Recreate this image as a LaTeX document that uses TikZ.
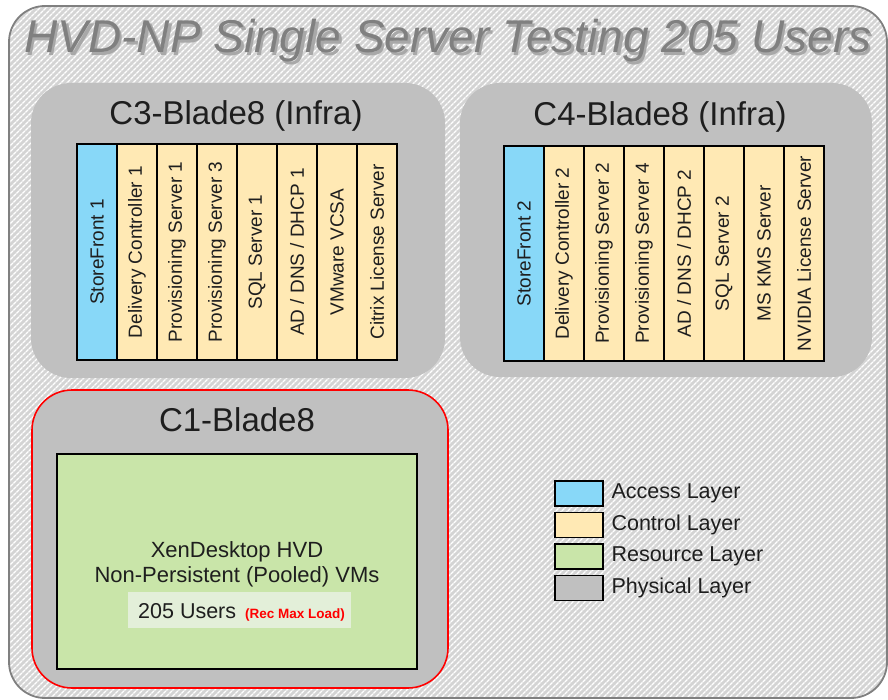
\documentclass[tikz,border=0pt]{standalone}
\usepackage{fontspec}
\setmainfont{Liberation Sans}
\usetikzlibrary{patterns.meta}
\definecolor{access}{HTML}{88D8F8}
\definecolor{control}{HTML}{FFE9B4}
\definecolor{resource}{HTML}{C9E5A9}
\definecolor{phys}{HTML}{C0C0C0}
\definecolor{bgfill}{HTML}{D4D4D4}
\definecolor{usersfill}{HTML}{E3EFD9}
\definecolor{titlegray}{HTML}{808080}
\definecolor{shadowgray}{HTML}{A8A8A8}
\definecolor{ink}{HTML}{1E1E1E}
\newcommand{\titletxt}{HVD-NP Single Server Testing 205 Users}
\begin{document}
\begin{tikzpicture}[x=1pt,y=-1pt,
  blade/.style={fill=phys, rounded corners=40pt, inner sep=0pt},
  bladetitle/.style={anchor=base, text=ink, font=\fontsize{33}{38}\selectfont},
  colbox/.style={draw=black, line width=1.3pt, rotate=90, inner sep=0pt, text=ink,
    font=\fontsize{19}{22}\selectfont, minimum height=40pt},
  legbox/.style={draw=black, line width=1.6pt, minimum width=48pt, minimum height=25pt, inner sep=0pt},
  legtext/.style={anchor=west, text=ink, font=\fontsize{21.5}{25}\selectfont},
  bodytext/.style={anchor=base, text=ink, font=\fontsize{22}{26}\selectfont}
]
\useasboundingbox (0,0) rectangle (888,700);
% outer hatched frame
\fill[bgfill, rounded corners=36pt] (9,6) rectangle (887,698);
\fill[pattern={Lines[angle=45,distance=4pt,line width=1.6pt]}, pattern color=white, rounded corners=36pt] (9,6) rectangle (887,698);
\draw[titlegray, line width=1.8pt, rounded corners=36pt] (9,6) rectangle (887,698);
% title with shadow (single node)
\node[text=titlegray, font=\fontsize{46}{50}\selectfont\itshape] (title) at (448,42)
  {\rlap{\kern2.5pt\raisebox{-2.5pt}{\textcolor{shadowgray}{\titletxt}}}\titletxt};

% C3 blade
\node[blade, minimum width=414pt, minimum height=295pt] (c3) at (238,230.5) {};
\node[bladetitle] (c3t) at (236,125) {C3-Blade8 (Infra)};
\node[colbox, fill=access,  minimum width=216pt] (c3a) at (97,252) {StoreFront 1};
\node[colbox, fill=control, minimum width=216pt] (c3b) at (137,252) {Delivery Controller 1};
\node[colbox, fill=control, minimum width=216pt] (c3c) at (177,252) {Provisioning Server 1};
\node[colbox, fill=control, minimum width=216pt] (c3d) at (217,252) {Provisioning Server 3};
\node[colbox, fill=control, minimum width=216pt] (c3e) at (257,252) {SQL Server 1};
\node[colbox, fill=control, minimum width=216pt] (c3f) at (297,252) {AD / DNS / DHCP 1};
\node[colbox, fill=control, minimum width=216pt] (c3g) at (337,252) {VMware VCSA};
\node[colbox, fill=control, minimum width=216pt] (c3h) at (377,252) {Citrix License Server};
\draw[black, line width=1.8pt] (77,144) rectangle (397,360);

% C4 blade
\node[blade, minimum width=412pt, minimum height=294pt] (c4) at (666,230) {};
\node[bladetitle] (c4t) at (660,126) {C4-Blade8 (Infra)};
\node[colbox, fill=access,  minimum width=215pt] (c4a) at (524,253.5) {StoreFront 2};
\node[colbox, fill=control, minimum width=215pt] (c4b) at (564,253.5) {Delivery Controller 2};
\node[colbox, fill=control, minimum width=215pt] (c4c) at (604,253.5) {Provisioning Server 2};
\node[colbox, fill=control, minimum width=215pt] (c4d) at (644,253.5) {Provisioning Server 4};
\node[colbox, fill=control, minimum width=215pt] (c4e) at (684,253.5) {AD / DNS / DHCP 2};
\node[colbox, fill=control, minimum width=215pt] (c4f) at (724,253.5) {SQL Server 2};
\node[colbox, fill=control, minimum width=215pt] (c4g) at (764,253.5) {MS KMS Server};
\node[colbox, fill=control, minimum width=215pt] (c4h) at (804,253.5) {NVIDIA License Server};
\draw[black, line width=1.8pt] (504,146) rectangle (824,361);

% C1 blade
\node[blade, draw=red, line width=1.6pt, minimum width=416pt, minimum height=298pt] (c1) at (240,539) {};
\node[bladetitle] (c1t) at (237,431) {C1-Blade8};
\node[draw=black, line width=1.6pt, fill=resource, minimum width=360pt, minimum height=215pt, inner sep=0pt] (vm) at (237,561.5) {};
\node[bodytext] (vm1) at (237,557) {XenDesktop HVD};
\node[bodytext] (vm2) at (237,582) {Non-Persistent (Pooled) VMs};
\node[fill=usersfill, minimum width=223pt, minimum height=36pt, inner sep=0pt] (usersbox) at (239.5,610) {};
\node[anchor=base west, text=ink, font=\fontsize{21.5}{25}\selectfont, inner sep=0pt] (users) at (138,618) {205 Users};
\node[anchor=base west, text=red, font=\fontsize{13.5}{16}\selectfont\bfseries, inner sep=0pt] (load) at (245,618) {(Rec Max Load)};

% legend
\node[legbox, fill=access]   (la) at (579,493.5) {};
\node[legbox, fill=control]  (lc) at (579,525) {};
\node[legbox, fill=resource] (lr) at (579,556.5) {};
\node[legbox, fill=phys]     (lp) at (579,588) {};
\node[legtext] (lat) at (608,493.5) {Access Layer};
\node[legtext] (lct) at (608,525) {Control Layer};
\node[legtext] (lrt) at (608,556.5) {Resource Layer};
\node[legtext] (lpt) at (608,588) {Physical Layer};
\end{tikzpicture}
\end{document}
